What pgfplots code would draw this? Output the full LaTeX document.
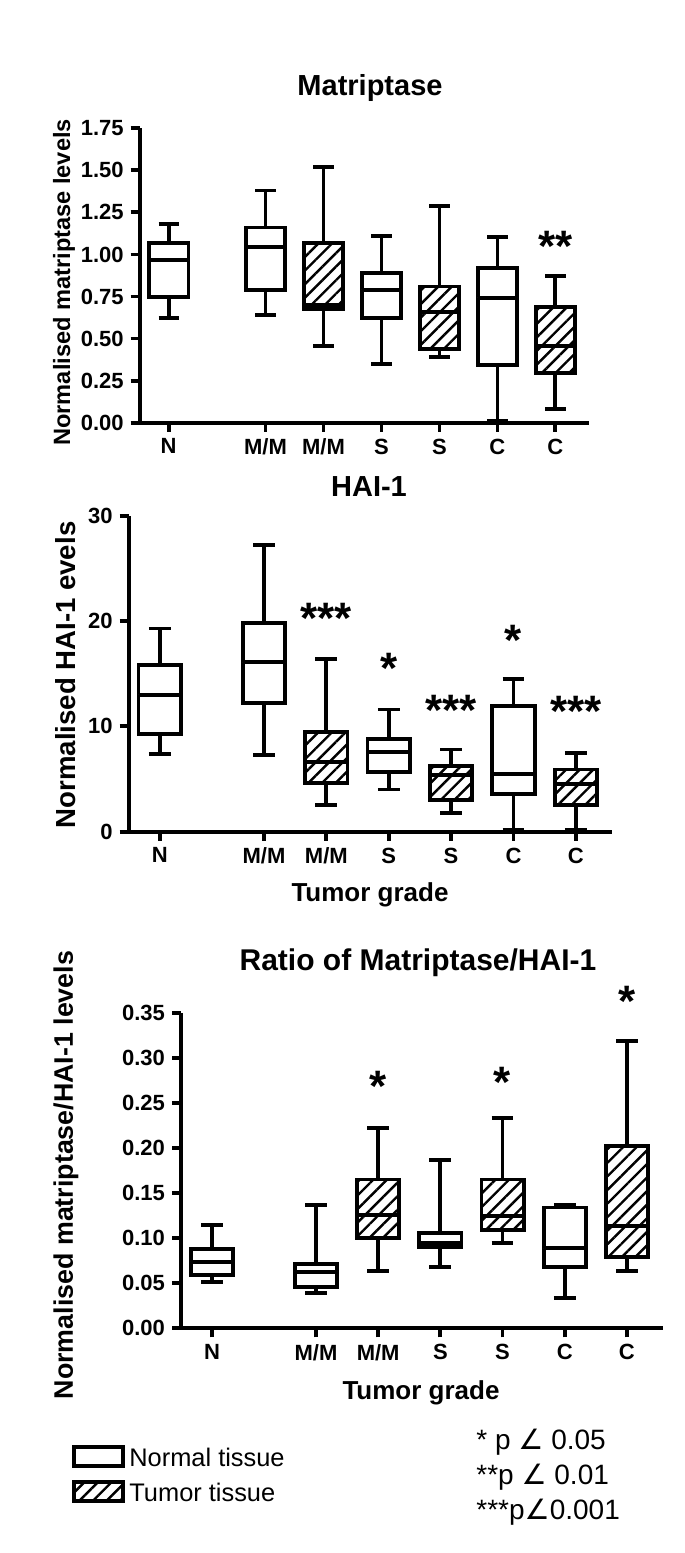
\documentclass[border=0pt]{standalone}
\usepackage{fontspec}
\setmainfont{Liberation Sans}
\newfontfamily\dejavu{DejaVu Sans}
\usepackage{pgfplots}
\pgfplotsset{compat=1.18}
\usepgfplotslibrary{statistics}
\usetikzlibrary{patterns.meta}

\tikzset{hatch/.style={pattern={Lines[angle=45,distance=4.8pt,line width=1.2pt]},pattern color=black}}

\pgfplotsset{
 gp/.style={
  scale only axis, anchor=south west,
  xmin=-0.5, xmax=7.25, ymin=0,
  axis x line*=bottom, axis y line*=left,
  axis line style={line width=1.9pt,-},
  tick align=outside, major tick length=4.5pt,
  every tick/.style={line width=1.9pt, black},
  xtick={0,1.67,2.67,3.67,4.67,5.67,6.67},
  xticklabels={N,M/M,M/M,S,S,C,C},
  tick label style={font=\bfseries\fontsize{11}{13}\selectfont},
  /pgf/number format/assume math mode=true,
  scaled y ticks=false,
  clip=false,
 },
 nb/.style={black, line width=1.9pt, fill=white, solid, boxplot/draw direction=y,
   boxplot/every box/.style={line width=1.9pt},
   boxplot/every whisker/.style={line width=1.9pt},
   boxplot/every median/.style={line width=1.9pt}},
 tb/.style={black, line width=1.9pt, solid, boxplot/draw direction=y,
   boxplot/every box/.style={hatch, line width=1.9pt},
   boxplot/every whisker/.style={line width=1.9pt},
   boxplot/every median/.style={line width=1.9pt}},
 bx/.style n args={6}{boxplot prepared={draw position=#1, lower whisker=#2, lower quartile=#3, median=#4, upper quartile=#5, upper whisker=#6, box extend=0.68, whisker extend=0.35}},
}
\tikzset{star/.style={font=\bfseries\fontsize{22}{24}\selectfont, inner sep=0pt}}

\begin{document}
\begin{tikzpicture}
\path[use as bounding box] (0,0) rectangle (342.5pt,776.5pt);

% Panel 1: Matriptase
\begin{axis}[gp, at={(69.85pt,565.15pt)}, width=224.65pt, height=147.2pt,
  ymax=1.75, ytick={0,0.25,0.5,0.75,1,1.25,1.5,1.75},
  yticklabel style={/pgf/number format/.cd, fixed, fixed zerofill, precision=2}]
\addplot[nb, bx={0}{0.62}{0.745}{0.965}{1.07}{1.18}] coordinates {};
\addplot[nb, bx={1.67}{0.64}{0.79}{1.046}{1.16}{1.38}] coordinates {};
\addplot[tb, bx={2.67}{0.456}{0.675}{0.70}{1.07}{1.52}] coordinates {};
\addplot[nb, bx={3.67}{0.347}{0.62}{0.79}{0.89}{1.11}] coordinates {};
\addplot[tb, bx={4.67}{0.39}{0.44}{0.656}{0.81}{1.29}] coordinates {};
\addplot[nb, bx={5.67}{0.01}{0.343}{0.743}{0.92}{1.106}] coordinates {};
\addplot[tb, bx={6.67}{0.08}{0.293}{0.456}{0.69}{0.87}] coordinates {};
\node[star] at (axis cs:6.67,1.05) {**};
\end{axis}

% Panel 2: HAI-1
\begin{axis}[gp, at={(64.3pt,360.65pt)}, width=241.7pt, height=158pt,
  ymax=30, ytick={0,10,20,30}]
\addplot[nb, bx={0}{7.4}{9.3}{13.0}{15.8}{19.3}] coordinates {};
\addplot[nb, bx={1.67}{7.3}{12.2}{16.1}{19.8}{27.2}] coordinates {};
\addplot[tb, bx={2.67}{2.5}{4.65}{6.6}{9.5}{16.4}] coordinates {};
\addplot[nb, bx={3.67}{4.0}{5.7}{7.6}{8.8}{11.6}] coordinates {};
\addplot[tb, bx={4.67}{1.8}{3.0}{5.4}{6.2}{7.8}] coordinates {};
\addplot[nb, bx={5.67}{0.2}{3.6}{5.5}{11.9}{14.5}] coordinates {};
\addplot[tb, bx={6.67}{0.15}{2.5}{4.5}{5.9}{7.5}] coordinates {};
\node[star] at (axis cs:2.67,20.3) {***};
\node[star] at (axis cs:3.67,15.5) {*};
\node[star] at (axis cs:4.67,11.5) {***};
\node[star] at (axis cs:5.67,18.2) {*};
\node[star] at (axis cs:6.67,11.4) {***};
\end{axis}

% Panel 3: Ratio
\begin{axis}[gp, at={(90.5pt,112.35pt)}, width=241pt, height=157.8pt,
  ymax=0.35, ytick={0,0.05,0.1,0.15,0.2,0.25,0.3,0.35},
  yticklabel style={/pgf/number format/.cd, fixed, fixed zerofill, precision=2}]
\addplot[nb, bx={0}{0.051}{0.059}{0.0739}{0.0876}{0.1146}] coordinates {};
\addplot[nb, bx={1.67}{0.0395}{0.0462}{0.0628}{0.0713}{0.137}] coordinates {};
\addplot[tb, bx={2.67}{0.0636}{0.0998}{0.1256}{0.165}{0.2225}] coordinates {};
\addplot[nb, bx={3.67}{0.0684}{0.0905}{0.095}{0.106}{0.1866}] coordinates {};
\addplot[tb, bx={4.67}{0.0942}{0.109}{0.1245}{0.165}{0.2328}] coordinates {};
\addplot[nb, bx={5.67}{0.0333}{0.0676}{0.0887}{0.134}{0.137}] coordinates {};
\addplot[tb, bx={6.67}{0.0636}{0.0787}{0.1138}{0.2021}{0.3186}] coordinates {};
\node[star] at (axis cs:2.67,0.268) {*};
\node[star] at (axis cs:4.67,0.273) {*};
\node[star] at (axis cs:6.67,0.363) {*};
\end{axis}

% titles and labels
\node[font=\bfseries\fontsize{14.5}{17}\selectfont] at (185pt,732.5pt) {Matriptase};
\node[font=\bfseries\fontsize{14.5}{17}\selectfont] at (184.5pt,533pt) {HAI-1};
\node[font=\bfseries\fontsize{15}{18}\selectfont] at (209pt,295pt) {Ratio of Matriptase/HAI-1};
\node[font=\bfseries\fontsize{13}{15}\selectfont] at (185pt,329pt) {Tumor grade};
\node[font=\bfseries\fontsize{13}{15}\selectfont] at (210.5pt,80pt) {Tumor grade};
\node[font=\bfseries\fontsize{11.8}{14}\selectfont, rotate=90] at (32pt,635.3pt) {Normalised matriptase levels};
\node[font=\bfseries\fontsize{13.8}{15}\selectfont, rotate=90] at (33pt,439pt) {Normalised HAI-1 evels};
\node[font=\bfseries\fontsize{13.4}{15}\selectfont, rotate=90] at (33pt,189pt) {Normalised matriptase/HAI-1 levels};

% legend
\draw[line width=1.8pt, fill=white] (37pt,43.5pt) rectangle (61.5pt,53pt);
\draw[line width=1.8pt, hatch] (37pt,26pt) rectangle (61.5pt,35.5pt);
\node[anchor=west, font=\fontsize{12.7}{14}\selectfont, inner sep=0pt] at (64.5pt,48pt) {Normal tissue};
\node[anchor=west, font=\fontsize{12.7}{14}\selectfont, inner sep=0pt] at (64.5pt,30.5pt) {Tumor tissue};
\node[anchor=west, font=\fontsize{14}{16}\selectfont, inner sep=0pt] at (238pt,55.5pt) {* p {\dejavu ∠} 0.05};
\node[anchor=west, font=\fontsize{14}{16}\selectfont, inner sep=0pt] at (238pt,38pt) {**p {\dejavu ∠} 0.01};
\node[anchor=west, font=\fontsize{14}{16}\selectfont, inner sep=0pt] at (238pt,20.5pt) {***p{\dejavu ∠}0.001};
\end{tikzpicture}
\end{document}
